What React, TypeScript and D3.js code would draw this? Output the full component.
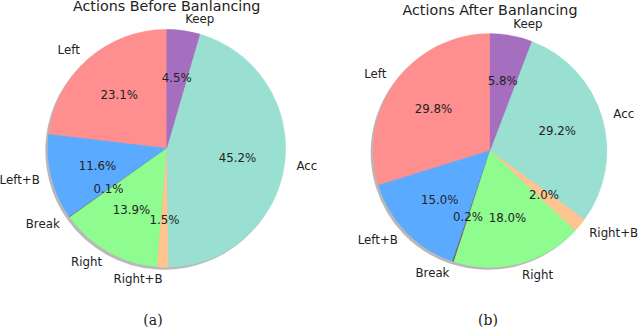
import React from 'react';
import * as d3 from 'd3';

const labels = ['Left', 'Left+B', 'Break', 'Right', 'Right+B', 'Acc', 'Keep'];
const colors = ['#ff8f8f', '#5aabff', '#666666', '#8ffc8f', '#ffc48f', '#9ae0d2', '#a66ebe'];
const beforeValues = [23.1, 11.6, 0.1, 13.9, 1.5, 45.2, 4.5];
const afterValues = [29.8, 15.0, 0.2, 18.0, 2.0, 29.2, 5.8];
const titles = ['Actions Before Banlancing', 'Actions After Banlancing'];
const captions = ['(a)', '(b)'];

const FONT = '"DejaVu Sans", sans-serif';

type PieProps = {
  values: number[];
  cx: number;
  cy: number;
  r: number;
  title: string;
  titleY: number;
  caption: string;
  captionX: number;
};

function Pie({ values, cx, cy, r, title, titleY, caption, captionX }: PieProps) {
  // matplotlib style: start at top, go counterclockwise
  const pie = d3
    .pie<number>()
    .sort(null)
    .startAngle(0)
    .endAngle(-2 * Math.PI);
  const arcs = pie(values);
  const arc = d3.arc<d3.PieArcDatum<number>>().innerRadius(0).outerRadius(r);
  const total = d3.sum(values);
  const shadowOff = 0.02 * r;

  return (
    <g>
      <text x={cx} y={titleY} textAnchor="middle" fontSize={14.3} fontFamily={FONT} fill="#222">
        {title}
      </text>
      <g transform={`translate(${cx - shadowOff},${cy + shadowOff})`}>
        {arcs.map((a, i) => (
          <path key={i} d={arc(a) || ''} fill="#000" opacity={0.28} />
        ))}
      </g>
      <g transform={`translate(${cx},${cy})`}>
        {arcs.map((a, i) => (
          <path key={i} d={arc(a) || ''} fill={colors[i]} stroke={colors[i]} strokeWidth={0.3} />
        ))}
        {arcs.map((a, i) => {
          const mid = (a.startAngle + a.endAngle) / 2;
          const lx = 1.1 * r * Math.sin(mid);
          const ly = -1.1 * r * Math.cos(mid);
          return (
            <text
              key={`l${i}`}
              x={lx}
              y={ly}
              textAnchor={lx > 0 ? 'start' : 'end'}
              dominantBaseline="central"
              fontSize={11.8}
              fontFamily={FONT}
              fill="#222"
            >
              {labels[i]}
            </text>
          );
        })}
        {arcs.map((a, i) => {
          const mid = (a.startAngle + a.endAngle) / 2;
          const px = 0.6 * r * Math.sin(mid);
          const py = -0.6 * r * Math.cos(mid);
          return (
            <text
              key={`p${i}`}
              x={px}
              y={py}
              textAnchor="middle"
              dominantBaseline="central"
              fontSize={11.8}
              fontFamily={FONT}
              fill="#222"
            >
              {`${((values[i] / total) * 100).toFixed(1)}%`}
            </text>
          );
        })}
      </g>
      <text x={captionX} y={325} textAnchor="middle" fontSize={14} fontFamily='"DejaVu Serif", serif' fill="#222">
        {caption}
      </text>
    </g>
  );
}

export default function App() {
  return (
    <svg width={640} height={329} style={{ position: 'absolute', left: 0, top: 0, background: '#fff' }}>
      <Pie values={beforeValues} cx={166.7} cy={148.3} r={119} title={titles[0]} titleY={11} caption={captions[0]} captionX={153} />
      <Pie values={afterValues} cx={490} cy={150.5} r={117} title={titles[1]} titleY={14.5} caption={captions[1]} captionX={488} />
    </svg>
  );
}
